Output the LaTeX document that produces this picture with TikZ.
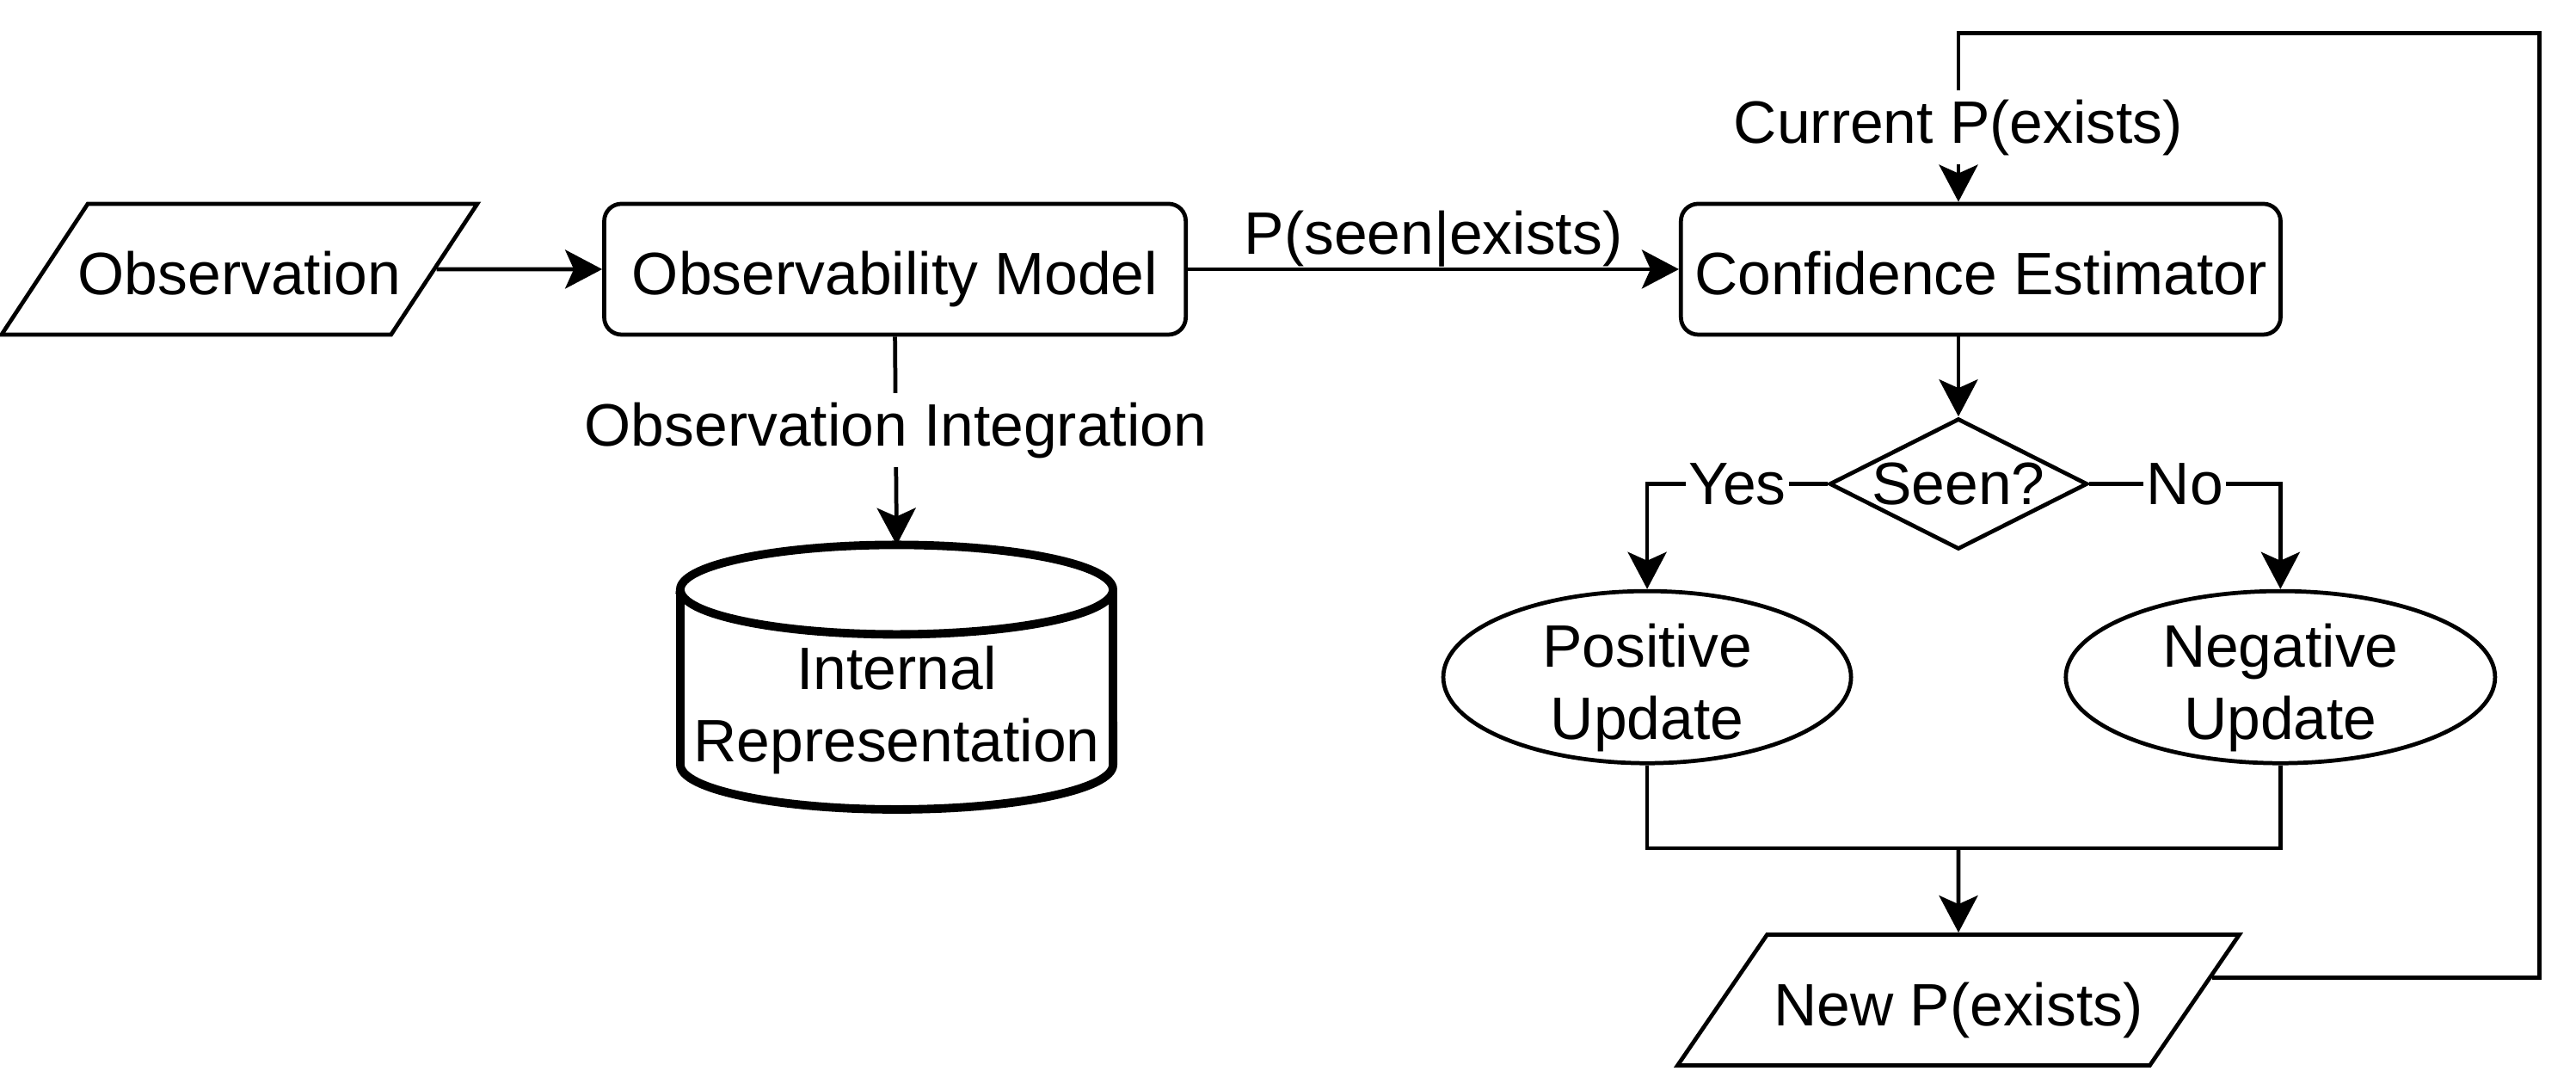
\documentclass[tikz,border=0pt]{standalone}
\usepackage{fontspec}
\setmainfont{Liberation Sans}
\usetikzlibrary{shapes.geometric,arrows.meta}

\begin{document}
\begin{tikzpicture}[x=0.0192cm,y=-0.0192cm,line width=1.35pt,
  every node/.style={font=\fontsize{19.8}{24}\selectfont},
  io/.style={draw,trapezium,trapezium stretches body=true,trapezium left angle=#1,trapezium right angle=180-#1,
    text height=0.74cm,text depth=0.14cm,inner ysep=0.32cm,inner xsep=0pt},
  process/.style={draw,rectangle,rounded corners=0.2cm,minimum width=#1,minimum height=1.52cm,text height=0.6cm,text depth=0pt},
  decision/.style={draw,diamond,aspect=1.97,inner sep=0pt,minimum width=3cm,minimum height=1.52cm},
  update/.style={draw,ellipse,minimum width=#1,minimum height=2cm,inner sep=0pt,text height=0.58cm,text depth=0.82cm},
  lbl/.style={fill=white,inner xsep=1pt,inner ysep=3pt},
  arr/.style={-{Stealth[length=0.43cm,width=0.45cm,inset=0.1cm]}}]
\useasboundingbox (0,0) rectangle (1560,648.4);
\node [io=56.6,minimum width=5.53cm,inner xsep=-0.2cm] (obs) at (145,163) {Observation};
\node [process=6.76cm] (om) at (542,163) {Observability Model};
\node [process=6.97cm] (ce) at (1199.5,163) {Confidence Estimator};
\node [decision] (seen) at (1186,293) {Seen?};
\node [update=4.74cm] (pos) at (997.5,410) {\begin{tabular}[t]{@{}c@{}}Positive\\Update\end{tabular}};
\node [update=4.99cm] (neg) at (1381,410) {\begin{tabular}[t]{@{}c@{}}Negative\\Update\end{tabular}};
\node [io=55.6,minimum width=6.53cm] (np) at (1186,605.5) {New P(exists)};
\node [align=center] (ir) at (543,430) {Internal\\Representation};
\coordinate (irtop) at (543,330);
\coordinate (loop) at (1538,20);
\coordinate (join) at (1186,513.5);
\draw [line width=2.8pt] (412,357) -- (412,463)
  arc[start angle=180,end angle=360,x radius=2.515cm,y radius=0.52cm] -- (674,357)
  arc[start angle=0,end angle=180,x radius=2.515cm,y radius=0.52cm] -- cycle;
\draw [line width=2.8pt] (412,357) arc[start angle=180,end angle=360,x radius=2.515cm,y radius=0.52cm];
\draw [arr] (obs.east) -- (om.west);
\draw [arr] (om) -- node[midway,anchor=south,fill=white,inner xsep=1pt,inner ysep=0pt] {P(seen|exists)} (ce);
\draw [arr] (om.south) -- node[pos=0.45,lbl] {Observation Integration} (irtop);
\draw [arr] (np.5) -| (loop) -| node[pos=0.78,lbl] {Current P(exists)} (seen.north |- ce.north);
\draw [arr] (seen.north |- ce.south) -- (seen.north);
\draw [arr] (seen.west) -| node[pos=0.25,lbl] {Yes} (pos.north);
\draw [arr] (seen.east) -| node[pos=0.25,lbl] {No} (neg.north);
\draw (pos.south) |- (join) -| (neg.south);
\draw [arr] (join) -- (np.north);
\end{tikzpicture}
\end{document}
